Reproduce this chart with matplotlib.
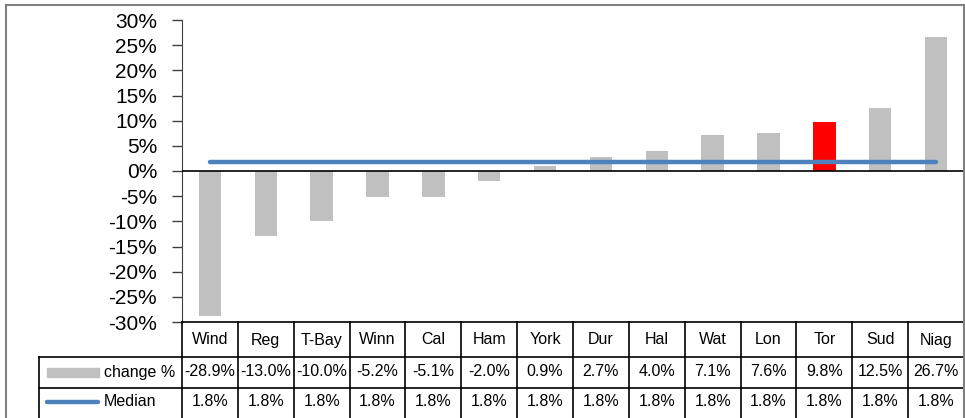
import numpy as np
import matplotlib.pyplot as plt
from matplotlib.transforms import blended_transform_factory
from matplotlib.patches import Rectangle

plt.rcParams['font.family'] = ['Liberation Sans', 'DejaVu Sans']

cities = ["Wind", "Reg", "T-Bay", "Winn", "Cal", "Ham", "York",
          "Dur", "Hal", "Wat", "Lon", "Tor", "Sud", "Niag"]
change = [-28.9, -13.0, -10.0, -5.2, -5.1, -2.0, 0.9,
          2.7, 4.0, 7.1, 7.6, 9.8, 12.5, 26.7]
median = [1.8] * 14
highlight = "Tor"

W, H = 965, 418
fig = plt.figure(figsize=(W / 100, H / 100), dpi=100)

def fy(py):
    return 1 - py / H

def fx(px):
    return px / W

# plot area
ax = fig.add_axes([fx(182), fy(322), fx(964) - fx(182), fy(20) - fy(322)])
x = np.arange(len(cities))
kleur = ["#FF0000" if c == highlight else "#C0C0C0" for c in cities]
ax.bar(x, change, width=0.4, color=kleur, zorder=2)
ax.plot(x, median, color="#4F81BD", lw=3.2, solid_capstyle="round", zorder=3)
ax.axhline(0, color="black", lw=1.2, zorder=4)

ax.set_xlim(-0.5, len(cities) - 0.5)
ax.set_ylim(-30, 30)
ax.set_yticks(np.arange(-30, 31, 5))
ax.set_yticklabels([f"{v}%" for v in range(-30, 31, 5)], fontsize=15)
ax.tick_params(axis="y", direction="out", length=7, width=1, pad=11, color="#404040")
ax.set_xticks([])
for s in ["top", "right"]:
    ax.spines[s].set_visible(False)
ax.spines["left"].set_color("#404040")
ax.spines["bottom"].set_color("black")
ax.spines["bottom"].set_linewidth(1.2)

# data table under the chart
tr = blended_transform_factory(ax.transData, fig.transFigure)
lk = dict(color="black", lw=1.2, clip_on=False)
y_top, y_r1, y_r2, y_bot = fy(322), fy(357), fy(388), fy(420)
for b in np.arange(len(cities) + 1) - 0.5:
    fig.add_artist(plt.Line2D([b, b], [y_top, y_bot], transform=tr, **lk))
for yy in [y_r1, y_r2]:
    fig.add_artist(plt.Line2D([fx(39), fx(964)], [yy, yy], transform=fig.transFigure, **lk))
fig.add_artist(plt.Line2D([fx(39), fx(39)], [y_r1, y_bot], transform=fig.transFigure, **lk))

for i, c in enumerate(cities):
    fig.text(i, fy(340), c, transform=tr, ha="center", va="center", fontsize=11.5)
    fig.text(i, fy(372), f"{change[i]:.1f}%", transform=tr, ha="center", va="center", fontsize=11.5)
    fig.text(i, fy(402), f"{median[i]:.1f}%", transform=tr, ha="center", va="center", fontsize=11.5)

# legend keys in the row labels
fig.add_artist(Rectangle((fx(47), fy(377)), fx(99) - fx(47), fy(368) - fy(377),
                         transform=fig.transFigure, color="#C0C0C0"))
fig.add_artist(plt.Line2D([fx(47), fx(98)], [fy(402), fy(402)], transform=fig.transFigure,
                          color="#4F81BD", lw=3.2, solid_capstyle="round"))
fig.text(fx(104), fy(372), "change %", ha="left", va="center", fontsize=11.5)
fig.text(fx(104), fy(402), "Median", ha="left", va="center", fontsize=11.5)

# outer frame
fk = dict(color="#808080", lw=1.5, transform=fig.transFigure)
fig.add_artist(plt.Line2D([fx(6), fx(6)], [fy(5), fy(418)], **fk))
fig.add_artist(plt.Line2D([fx(6), fx(964)], [fy(5), fy(5)], **fk))
fig.add_artist(plt.Line2D([fx(964), fx(964)], [fy(5), fy(418)], **fk))

fig.savefig("out.png", dpi=100)
